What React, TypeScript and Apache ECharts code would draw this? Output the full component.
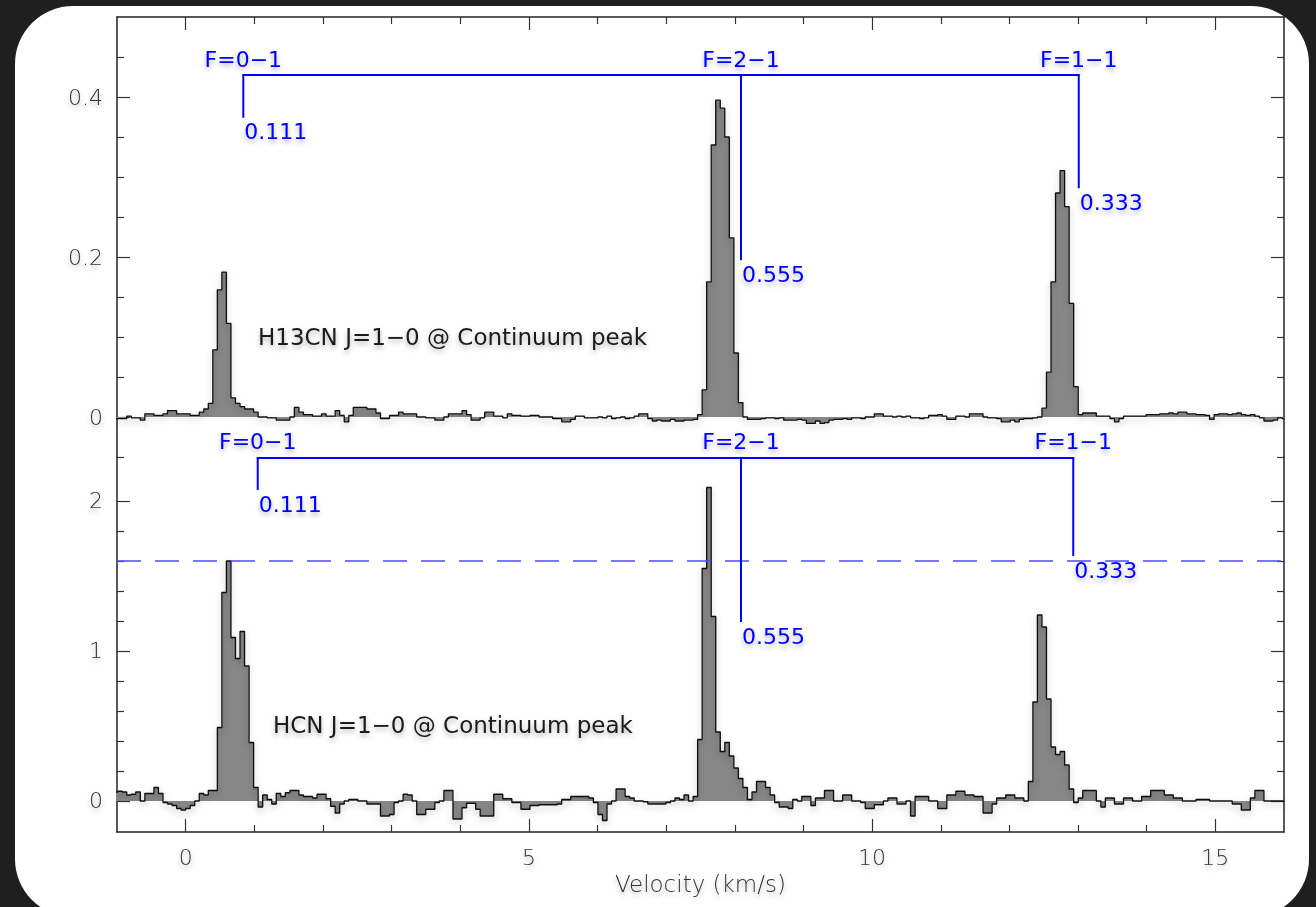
import React, { useEffect, useRef } from "react";
import * as echarts from "echarts";

// Spectral channel grid (velocity of channel centres, km/s)
const V0 = -1.023;
const DV = 0.066;

// H13CN J=1-0 spectrum (K), one value per channel
const h13cn = [
  -0.002, -0.002, -0.002, 0.001, -0.001, -0.001, -0.004, 0.004, 0.004, 0.002,
  0.002, 0.004, 0.008, 0.008, 0.004, 0.004, 0.004, 0.002, 0.002, 0.006,
  0.01, 0.017, 0.084, 0.159, 0.181, 0.117, 0.024, 0.017, 0.013, 0.01,
  0.01, 0.006, 0.0, 0.0, -0.001, -0.001, -0.004, -0.004, -0.004, 0.0,
  0.012, 0.006, 0.003, 0.003, 0.001, 0.001, 0.004, 0.001, 0.001, 0.008,
  0.002, -0.006, 0.002, 0.012, 0.012, 0.012, 0.01, 0.01, 0.005, -0.002,
  -0.002, 0.002, 0.002, 0.006, 0.004, 0.004, 0.004, 0.0, 0.0, -0.001,
  -0.001, -0.004, -0.004, 0.0, 0.004, 0.004, 0.004, 0.008, 0.003, -0.004,
  -0.004, -0.001, 0.006, 0.006, 0.001, 0.001, -0.001, 0.004, 0.002, 0.002,
  0.001, 0.001, 0.002, 0.002, 0.0, 0.0, 0.0, -0.002, -0.002, -0.006,
  -0.006, -0.003, 0.001, 0.001, -0.001, -0.001, -0.001, 0.0, -0.001, 0.001,
  -0.002, -0.001, 0.0, -0.002, -0.001, 0.001, 0.004, 0.004, -0.002, -0.005,
  -0.004, -0.005, -0.005, -0.003, -0.005, -0.005, -0.004, -0.004, -0.003, 0.003,
  0.034, 0.169, 0.34, 0.396, 0.386, 0.35, 0.224, 0.08, 0.018, 0.0,
  -0.003, -0.003, -0.003, -0.002, -0.001, -0.001, -0.002, -0.001, -0.004, -0.004,
  -0.004, -0.003, -0.004, -0.008, -0.008, -0.005, -0.008, -0.007, -0.004, -0.003,
  -0.003, -0.002, -0.003, -0.001, -0.001, -0.002, 0.0, 0.0, 0.004, 0.004,
  0.001, 0.001, 0.0, 0.001, 0.0, 0.001, -0.001, -0.001, -0.002, -0.001,
  0.002, 0.002, 0.003, 0.001, -0.003, -0.003, 0.001, 0.001, 0.0, 0.004,
  0.004, 0.004, 0.0, -0.001, -0.001, -0.002, -0.006, -0.006, -0.004, -0.006,
  -0.003, -0.002, -0.002, -0.001, 0.0, 0.011, 0.056, 0.169, 0.28, 0.308,
  0.263, 0.142, 0.038, 0.003, 0.005, 0.005, 0.005, 0.001, 0.001, 0.001,
  -0.002, -0.006, -0.002, 0.001, 0.001, 0.001, 0.001, 0.001, 0.003, 0.003,
  0.003, 0.004, 0.004, 0.005, 0.004, 0.006, 0.006, 0.004, 0.004, 0.003,
  0.003, 0.002, -0.003, 0.003, 0.004, 0.004, 0.003, 0.004, 0.005, 0.003,
  0.002, 0.003, 0.001, -0.001, -0.005, -0.005, -0.004, -0.001, -0.002,
];

// HCN J=1-0 spectrum (K), one value per channel
const hcn = [
  0.06, 0.065, 0.06, 0.04, 0.045, 0.06, 0.0, 0.05, 0.05, 0.09,
  0.05, -0.01, -0.02, -0.03, -0.05, -0.06, -0.05, -0.03, 0.0, 0.05,
  0.04, 0.07, 0.07, 0.49, 1.39, 1.6, 1.09, 0.95, 1.13, 0.9,
  0.39, 0.09, -0.04, 0.04, 0.01, -0.02, 0.05, 0.03, 0.055, 0.07,
  0.07, 0.04, 0.03, 0.03, 0.02, 0.045, 0.045, 0.015, -0.035, -0.08,
  -0.02, 0.0, 0.01, 0.01, 0.0, 0.0, -0.02, -0.02, -0.02, -0.1,
  -0.1, -0.09, -0.01, 0.0, 0.045, 0.04, 0.0, -0.09, -0.09, -0.055,
  -0.055, -0.01, 0.0, 0.07, 0.07, -0.12, -0.12, -0.045, -0.015, -0.015,
  -0.055, -0.1, -0.1, -0.1, 0.045, 0.045, 0.015, 0.015, -0.01, -0.01,
  -0.055, -0.055, -0.03, -0.03, -0.025, -0.025, -0.025, -0.025, -0.02, 0.01,
  0.01, 0.03, 0.03, 0.03, 0.03, 0.02, -0.01, -0.09, -0.13, -0.02,
  0.0, 0.08, 0.08, 0.03, 0.02, 0.0, 0.0, -0.005, -0.02, -0.02,
  -0.02, -0.02, -0.01, 0.0, 0.02, 0.01, 0.04, 0.0, 0.03, 0.41,
  1.55, 2.09, 1.23, 0.46, 0.33, 0.39, 0.3, 0.22, 0.15, 0.09,
  0.01, 0.06, 0.13, 0.13, 0.09, 0.04, -0.01, -0.04, -0.04, -0.05,
  0.01, 0.0, 0.03, 0.03, -0.03, 0.02, 0.02, 0.07, 0.07, 0.0,
  0.0, 0.04, 0.04, 0.0, 0.0, -0.01, -0.05, -0.05, -0.025, -0.025,
  0.0, 0.02, 0.02, -0.02, -0.02, 0.0, -0.1, 0.03, 0.03, 0.03,
  0.0, 0.0, -0.05, -0.05, 0.04, 0.04, 0.065, 0.065, 0.04, 0.04,
  0.03, 0.03, -0.08, -0.08, -0.02, 0.02, 0.02, 0.04, 0.04, 0.02,
  0.02, 0.0, 0.13, 0.66, 1.24, 1.16, 0.68, 0.36, 0.31, 0.33,
  0.24, 0.08, -0.01, 0.02, 0.07, 0.07, 0.07, 0.0, -0.04, 0.02,
  0.02, -0.02, -0.02, 0.02, 0.02, 0.0, 0.0, 0.03, 0.03, 0.07,
  0.07, 0.07, 0.04, 0.04, 0.02, 0.02, 0.0, 0.0, 0.0, 0.01,
  0.01, 0.01, 0.0, 0.0, 0.0, 0.0, 0.0, -0.02, -0.02, -0.06,
  -0.06, 0.02, 0.07, 0.07, 0.0, 0.0, 0.0, 0.0, 0.0,
];

// Axis ticks
const xMajorTicks = [0, 5, 10, 15];
const xMinorTicks = [1, 2, 3, 4, 6, 7, 8, 9, 11, 12, 13, 14];
const topMajorTicks = [0, 0.2, 0.4];
const topMinorTicks = [-0.05, 0.05, 0.1, 0.15, 0.25, 0.3, 0.35, 0.45];
const botMajorTicks = [0, 1, 2];
const botMinorTicks = [0.2, 0.4, 0.6, 0.8, 1.2, 1.4, 1.6, 1.8];

// Hyperfine components
const hfsLabels = ["F=0−1", "F=2−1", "F=1−1"];
const hfsWeights = ["0.111", "0.555", "0.333"];
const topHfsVel = [0.84, 8.09, 13.01];
const topHfsEnd = [0.374, 0.196, 0.286];
const topBracket = 0.4275;
const botHfsVel = [1.05, 8.09, 12.93];
const botHfsEnd = [2.073, 1.193, 1.633];
const botBracket = 2.287;
const hcnThreshold = 1.6;

const topTitle = "H13CN J=1−0 @ Continuum peak";
const botTitle = "HCN J=1−0 @ Continuum peak";
const xTitle = "Velocity (km/s)";

const FONT = '"DejaVu Sans", sans-serif';
const LIGHT = 200;
const BLUE = "#0000ff";
const FRAME = "#222222";
const TICK = "#333333";
const LABEL = "#333333";
const SHADOW = "rgba(0,0,0,0.30)";

const toPairs = (arr: number[]) => arr.map((y, i) => [V0 + i * DV, y]);

const textShadow = {
  textShadowColor: SHADOW,
  textShadowBlur: 5,
  textShadowOffsetY: 3,
};

function xAx(grid: number, pos: string, ticks: number[], len: number, line: boolean, labels: boolean, name?: string) {
  return {
    type: "value",
    gridIndex: grid,
    position: pos,
    min: -1,
    max: 16,
    axisLine: { show: line, onZero: false, lineStyle: { color: FRAME, width: 1.5 } },
    axisTick: { show: true, inside: true, length: len, customValues: ticks, lineStyle: { color: TICK, width: 1.2 } },
    axisLabel: labels
      ? { show: true, customValues: ticks, color: LABEL, fontFamily: FONT, fontWeight: LIGHT, fontSize: 22, margin: 14, ...textShadow }
      : { show: false },
    splitLine: { show: false },
    name: name || "",
    nameLocation: "middle",
    nameGap: 40,
    nameTextStyle: { color: LABEL, fontFamily: FONT, fontWeight: LIGHT, fontSize: 23, ...textShadow },
  };
}

function yAx(grid: number, pos: string, min: number, max: number, ticks: number[], len: number, line: boolean, labels: boolean) {
  return {
    type: "value",
    gridIndex: grid,
    position: pos,
    min,
    max,
    axisLine: { show: line, onZero: false, lineStyle: { color: FRAME, width: 1.5 } },
    axisTick: { show: true, inside: true, length: len, customValues: ticks, lineStyle: { color: TICK, width: 1.2 } },
    axisLabel: labels
      ? { show: true, customValues: ticks, color: LABEL, fontFamily: FONT, fontWeight: LIGHT, fontSize: 22, margin: 14, ...textShadow }
      : { show: false },
    splitLine: { show: false },
  };
}

function blueText(text: string, x: number, y: number, align: string) {
  return {
    type: "text",
    x,
    y,
    style: {
      text, fill: BLUE, font: `normal 22px ${FONT}`,
      align, verticalAlign: "middle", textAlign: align, textVerticalAlign: "middle",
      textShadowColor: SHADOW, textShadowBlur: 5, textShadowOffsetY: 3,
    },
  };
}

function hfsSeries(xi: number, yi: number, vel: number[], ends: number[], bracket: number) {
  return {
    type: "custom",
    xAxisIndex: xi,
    yAxisIndex: yi,
    clip: false,
    z: 5,
    data: vel.map((v, i) => [v, ends[i], i]),
    renderItem: (params: any, api: any) => {
      const v = api.value(0);
      const yEnd = api.value(1);
      const idx = api.value(2);
      const top = api.coord([v, bracket]);
      const end = api.coord([v, yEnd]);
      const children: any[] = [
        {
          type: "line",
          shape: { x1: top[0], y1: top[1], x2: end[0], y2: end[1] },
          style: { stroke: BLUE, lineWidth: 2, fill: null },
        },
        blueText(hfsLabels[idx], top[0], top[1] - 16, "center"),
        blueText(hfsWeights[idx], end[0] + 1, end[1] + 14, "left"),
      ];
      if (params.dataIndex === 0) {
        const a = api.coord([vel[0], bracket]);
        const b = api.coord([vel[vel.length - 1], bracket]);
        children.push({
          type: "line",
          shape: { x1: a[0] - 1, y1: a[1], x2: b[0] + 1, y2: b[1] },
          style: { stroke: BLUE, lineWidth: 2, fill: null },
        });
      }
      return { type: "group", children };
    },
  };
}

function spectrum(xi: number, yi: number, data: number[], extra: any = {}) {
  return {
    type: "line",
    xAxisIndex: xi,
    yAxisIndex: yi,
    data: toPairs(data),
    step: "middle",
    symbol: "none",
    z: 2,
    lineStyle: { color: "#111111", width: 1.3, shadowColor: SHADOW, shadowBlur: 6, shadowOffsetY: 3 },
    areaStyle: { color: "#878787", opacity: 1, origin: 0 },
    ...extra,
  };
}

function titleText(text: string, x: number, y: number) {
  return {
    type: "text",
    x,
    y,
    z: 10,
    style: {
      text, fill: "#1a1a1a", font: `normal 23px ${FONT}`,
      align: "left", verticalAlign: "middle", textAlign: "left", textVerticalAlign: "middle",
      textShadowColor: SHADOW, textShadowBlur: 5, textShadowOffsetY: 3,
    },
  };
}

export default function App() {
  const ref = useRef<HTMLDivElement>(null);

  useEffect(() => {
    if (!ref.current) return;
    const chart = echarts.init(ref.current, null, { renderer: "svg" });
    const topMin = -0.05, topMax = 0.5;
    const botMin = -0.2067, botMax = 2.2933;
    chart.setOption({
      animation: false,
      backgroundColor: "transparent",
      textStyle: { fontFamily: FONT },
      grid: [
        { left: 117, top: 17, width: 1167, height: 440 },
        { left: 117, top: 457, width: 1167, height: 375 },
      ],
      xAxis: [
        xAx(0, "top", xMajorTicks, 13, true, false),
        xAx(0, "top", xMinorTicks, 7, false, false),
        xAx(1, "bottom", xMajorTicks, 13, true, true, xTitle),
        xAx(1, "bottom", xMinorTicks, 7, false, false),
      ],
      yAxis: [
        yAx(0, "left", topMin, topMax, topMajorTicks, 13, true, true),
        yAx(0, "left", topMin, topMax, topMinorTicks, 7, false, false),
        yAx(0, "right", topMin, topMax, topMajorTicks, 13, true, false),
        yAx(0, "right", topMin, topMax, topMinorTicks, 7, false, false),
        yAx(1, "left", botMin, botMax, botMajorTicks, 13, true, true),
        yAx(1, "left", botMin, botMax, botMinorTicks, 7, false, false),
        yAx(1, "right", botMin, botMax, botMajorTicks, 13, true, false),
        yAx(1, "right", botMin, botMax, botMinorTicks, 7, false, false),
      ],
      series: [
        spectrum(0, 0, h13cn),
        spectrum(2, 4, hcn, {
          markLine: {
            silent: true,
            symbol: ["none", "none"],
            label: { show: false },
            lineStyle: { color: "#4b4bff", width: 1.5, type: [24, 14] },
            data: [{ yAxis: hcnThreshold }],
          },
        }),
        hfsSeries(0, 0, topHfsVel, topHfsEnd, topBracket),
        hfsSeries(2, 4, botHfsVel, botHfsEnd, botBracket),
      ],
      graphic: [titleText(topTitle, 258, 337), titleText(botTitle, 273, 725)],
    });
    return () => chart.dispose();
  }, []);

  return (
    <div style={{ position: "fixed", left: 0, top: 0, width: 1316, height: 907, background: "#1f1f1f", overflow: "hidden" }}>
      <div style={{ position: "absolute", left: 15, top: 6, width: 1294, height: 911, background: "#ffffff", borderRadius: 58 }} />
      <div ref={ref} style={{ position: "absolute", left: 0, top: 0, width: 1316, height: 907 }} />
    </div>
  );
}
